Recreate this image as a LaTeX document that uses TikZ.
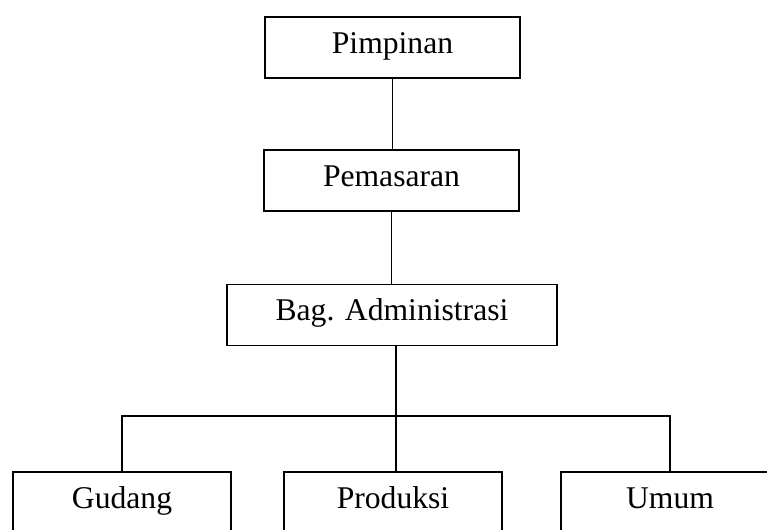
\documentclass[tikz,border=0pt]{standalone}
\usepackage{fontspec}
\setmainfont{Liberation Serif}
\usepackage{tikz}

\begin{document}
\begin{tikzpicture}[x=0.02cm, y=-0.02cm, line width=0.7pt,
  box/.style={draw, inner sep=0pt, minimum height=1.22cm, text height=0.66em, text depth=0pt, font=\fontsize{18}{22}\selectfont}]
\useasboundingbox (0,0) rectangle (767,529);
\node[box, minimum width=5.1cm] (pimpinan) at (392.5,47.5) {Pimpinan};
\node[box, minimum width=5.1cm] (pemasaran) at (391.5,180.5) {Pemasaran};
\node[box, minimum width=6.6cm] (bag) at (392,315) {Bag. Administrasi};
\node[box, minimum width=4.36cm] (gudang) at (122,502.5) {Gudang};
\node[box, minimum width=4.36cm] (produksi) at (393,502.5) {Produksi};
\node[box, minimum width=4.36cm] (umum) at (670,502.5) {Umum};
\coordinate (split) at (396,416);
\draw (pimpinan.south) -- (pimpinan.south |- pemasaran.north);
\draw (pemasaran.south) -- (pemasaran.south |- bag.north);
\draw (split |- bag.south) -- (split);
\draw (gudang.north) |- (split) -| (umum.north);
\draw (split) -- (split |- produksi.north);
\end{tikzpicture}
\end{document}
